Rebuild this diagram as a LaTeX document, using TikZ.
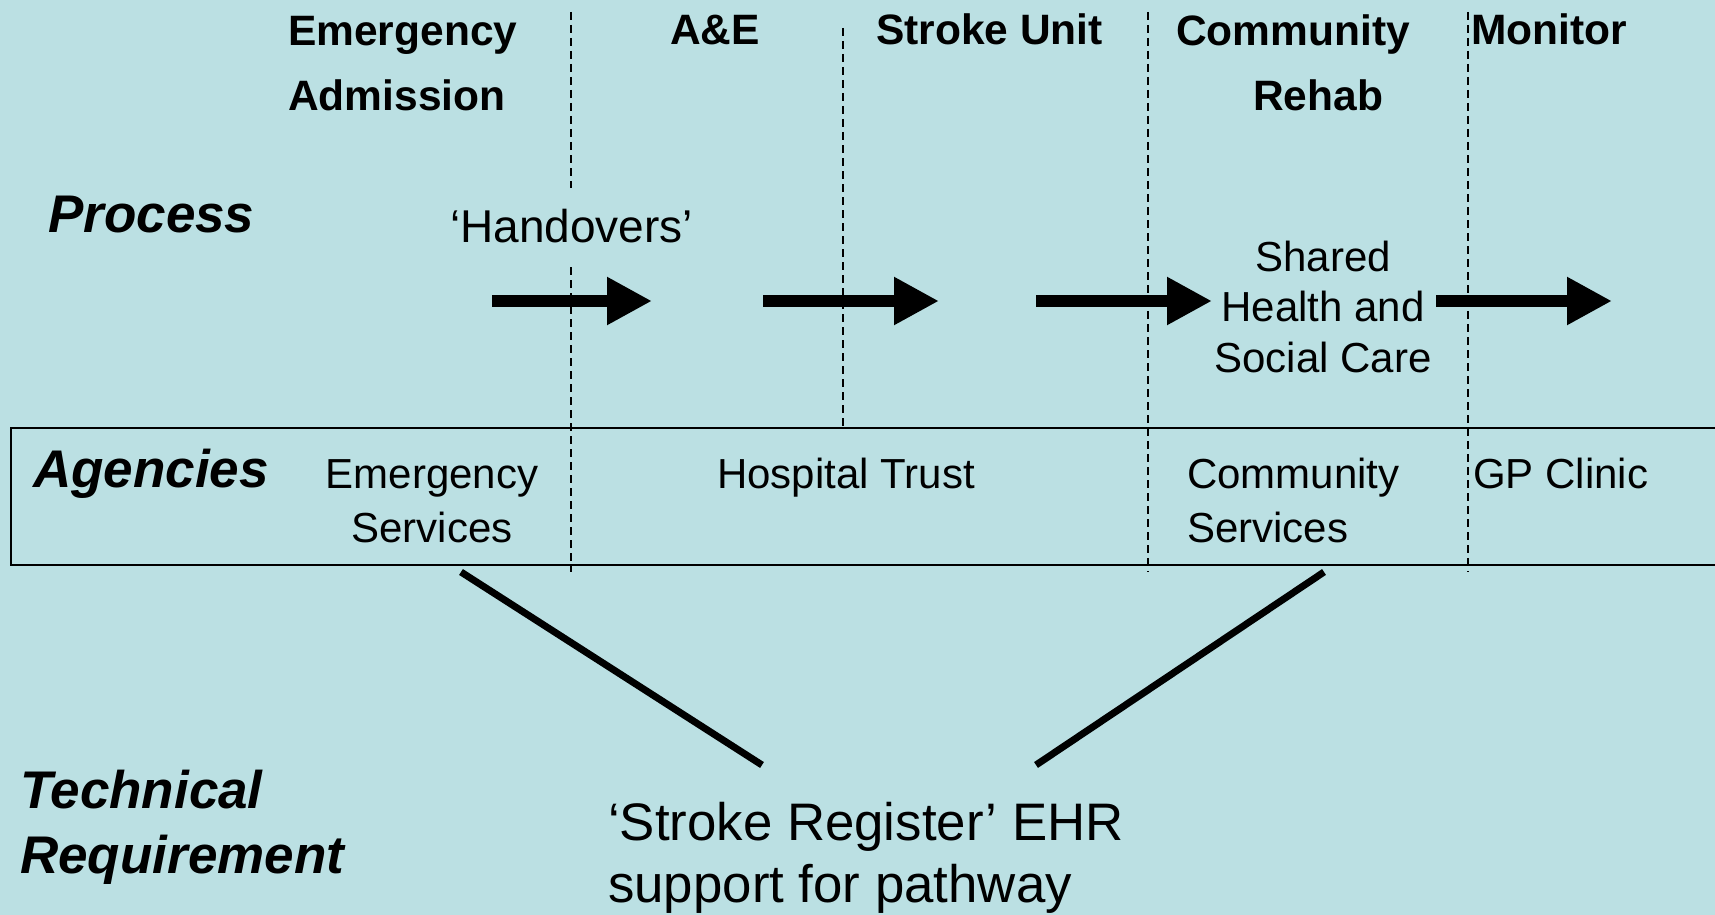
\documentclass[tikz,border=0pt]{standalone}
\usepackage{fontspec}
\setmainfont{Liberation Sans}
\definecolor{slidecolor}{RGB}{187,224,227}
\usetikzlibrary{arrows.meta,positioning}
\tikzset{
	phase/.style={
		font=\fontsize{42.5}{66}\selectfont\bfseries,
		inner sep=0pt,
		anchor=base west,
		align=left
	},
	rowlabel/.style={
		font=\fontsize{53}{65}\selectfont\bfseries\itshape,
		inner sep=0pt,
		anchor=base west,
		align=left
	},
	agency/.style={
		font=\fontsize{42}{54}\selectfont,
		inner sep=0pt,
		anchor=base west,
		align=left
	},
	lane/.style={
		line width=1.5pt,
		dash pattern=on 8pt off 5pt
	},
	flow/.style={
		line width=12.7pt,
		-{Triangle[length=45pt,width=45pt]}
	},
	link/.style={
		line width=7pt
	},
}

\begin{document}
\begin{tikzpicture}[x=1pt,y=-1pt]
	\useasboundingbox (0,0) rectangle (1715,915);
	\fill[slidecolor] (0,0) rectangle (1715,915);
	% care stages (multi-line nodes sit on their last baseline)
	\node[phase] (emadm) at (288,111) {Emergency\\Admission};
	\node[phase] (ae) at (670,45) {A\&E};
	\node[phase] (stroke) at (876,45) {Stroke Unit};
	\node[phase,align=center] (rehab) at (1176,111) {Community\\\hspace*{50pt}Rehab};
	\node[phase] (monitor) at (1471,45) {Monitor};
	% row labels
	\node[rowlabel] (process) at (48,232) {Process};
	\node[rowlabel] (agencies) at (33,487) {Agencies};
	\node[rowlabel] (techreq) at (20,873) {Technical\\Requirement};
	\node[agency,font=\fontsize{46}{50}\selectfont] (handover) at (450,242) {‘Handovers’};
	\node[agency,font=\fontsize{42}{50.5}\selectfont,align=center,anchor=base] (shared) at (1323,372) {Shared\\Health and\\Social Care};
	% lanes
	\draw[lane] (571,12) -- (571,188);
	\draw[lane] (571,267) -- (571,572);
	\draw[lane] (843,28) -- (843,428);
	\draw[lane] (1148,12) -- (1148,572);
	\draw[lane] (1468,12) -- (1468,572);
	\draw[line width=2pt] (1715,428) -- (11,428) -- (11,565) -- (1715,565);
	% agencies
	\node[agency,align=center,anchor=base] (emsvc) at (432,542) {Emergency\\Services};
	\node[agency] (trust) at (717,488) {Hospital Trust};
	\node[agency] (comsvc) at (1187,542) {Community\\Services};
	\node[agency] (gp) at (1473,488) {GP Clinic};
	\node[agency,font=\fontsize{52.8}{62}\selectfont] (ehr) at (608,902) {‘Stroke Register’ EHR\\support for pathway};
	% handovers
	\coordinate (h1) at (492,301); \coordinate (h1e) at (652,301);
	\coordinate (h2) at (763,301); \coordinate (h2e) at (939,301);
	\coordinate (h3) at (1036,301); \coordinate (h3e) at (1212,301);
	\coordinate (h4) at (1436,301); \coordinate (h4e) at (1612,301);
	\draw[flow] (h1) -- (h1e);
	\draw[flow] (h2) -- (h2e);
	\draw[flow] (h3) -- (h3e);
	\draw[flow] (h4) -- (h4e);
	% links to the register
	\coordinate (es-foot) at (461,572); \coordinate (ehr-l) at (762,765);
	\coordinate (cs-foot) at (1324,572); \coordinate (ehr-r) at (1036,765);
	\draw[link] (es-foot) -- (ehr-l);
	\draw[link] (cs-foot) -- (ehr-r);
\end{tikzpicture}
\end{document}
